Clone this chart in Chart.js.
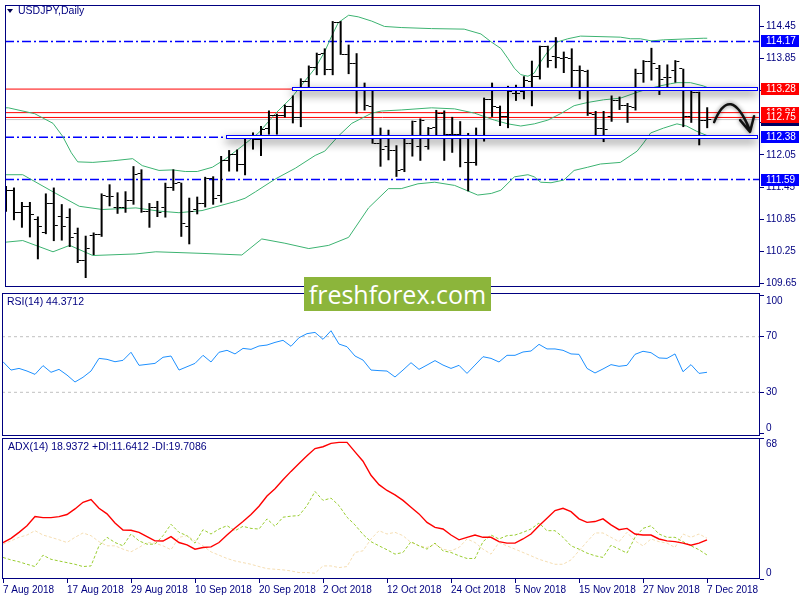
<!DOCTYPE html>
<html>
<head>
<meta charset="utf-8">
<title>USDJPY, Daily</title>
<script src="https://cdn.jsdelivr.net/npm/chart.js@4.4.1/dist/chart.umd.min.js"></script>
<style>
  html, body { margin: 0; padding: 0; background: #fff; }
  #wrap { position: relative; width: 800px; height: 600px; overflow: hidden; font-family: 'Liberation Sans', Arial, sans-serif; }
  canvas { position: absolute; left: 0; }
  .title { position: absolute; font-size: 10.5px; line-height: 13px; color: #000080; white-space: nowrap; }
  .menuMark { position: absolute; left: 7px; top: 9px; width: 0; height: 0;
    border-left: 3px solid transparent; border-right: 3px solid transparent; border-top: 4px solid #000050; }
  #brand { position: absolute; left: 304px; top: 277px; width: 187px; height: 34px; background: #8cb53b;
    color: #fff; font-family: 'Open Sans', sans-serif; font-size: 25px; line-height: 34px; text-align: center; }
</style>
</head>
<body>
<div id="wrap">
  <canvas id="priceChart" width="800" height="292" style="top:0"></canvas>
  <canvas id="rsiChart" width="800" height="145" style="top:292px"></canvas>
  <canvas id="adxChart" width="800" height="163" style="top:437px"></canvas>
  <div class="menuMark"></div>
  <div class="title" style="left:18px;top:4px">USDJPY,Daily</div>
  <div class="title" style="left:7px;top:295px">RSI(14) 44.3712</div>
  <div class="title" style="left:8px;top:440px">ADX(14) 18.9372 +DI:11.6412 -DI:19.7086</div>
  <div id="brand">freshforex.com</div>
</div>
<script>
// time axis: one label every 8 daily bars
const tickLabels = ['7 Aug 2018', '17 Aug 2018', '29 Aug 2018', '10 Sep 2018', '20 Sep 2018', '2 Oct 2018',
    '12 Oct 2018', '24 Oct 2018', '5 Nov 2018', '15 Nov 2018', '27 Nov 2018', '7 Dec 2018'];
const tickBars = [0, 8, 16, 24, 32, 40, 48, 56, 64, 72, 80, 88];

// daily bars, 7 Aug .. 7 Dec 2018
const opens = [111.40, 111.38, 110.97, 111.09, 110.85, 110.60, 111.15, 110.90, 110.88, 110.59,
    110.07, 110.55, 110.57, 111.27, 111.06, 111.07, 111.19, 111.70, 110.99, 111.07,
    111.07, 111.45, 111.53, 110.72, 111.03, 111.15, 111.60, 111.30, 111.94, 112.06,
    111.87, 112.37, 112.34, 112.55, 112.79, 112.79, 112.96, 112.75, 113.42, 113.68,
    113.95, 113.64, 114.52, 113.93, 113.75, 113.26, 112.96, 112.27, 112.21, 112.14,
    111.78, 112.26, 112.20, 112.21, 112.57, 112.83, 112.44, 112.43, 111.90, 111.90,
    112.37, 113.09, 112.93, 112.76, 113.20, 113.23, 113.42, 113.52, 114.07, 113.89,
    113.85, 113.85, 113.62, 113.61, 112.80, 112.55, 112.76, 113.06, 112.97, 112.93,
    113.58, 113.79, 113.67, 113.49, 113.62, 113.66, 112.77, 113.22, 112.69];
const highs = [111.47, 111.44, 111.17, 111.17, 110.90, 111.33, 111.44, 111.13, 111.05, 110.69,
    110.54, 110.60, 111.33, 111.50, 111.35, 111.37, 111.84, 111.78, 111.15, 111.19,
    111.53, 111.78, 111.53, 111.25, 111.27, 111.64, 111.65, 112.03, 112.14, 112.15,
    112.40, 112.47, 112.59, 112.88, 112.82, 112.99, 113.16, 113.48, 113.72, 113.96,
    114.04, 114.55, 114.55, 114.11, 113.95, 113.40, 113.28, 112.56, 112.52, 112.23,
    112.35, 112.69, 112.73, 112.57, 112.89, 112.88, 112.76, 112.68, 112.46, 112.56,
    113.12, 113.40, 112.97, 113.34, 113.36, 113.52, 113.81, 114.09, 114.09, 114.25,
    113.98, 114.04, 113.72, 113.64, 112.87, 112.87, 113.16, 113.14, 113.02, 113.66,
    113.82, 114.05, 113.73, 113.74, 113.82, 113.66, 113.25, 113.23, 112.94];
const lows = [110.99, 110.83, 110.69, 110.51, 110.10, 110.57, 110.44, 110.45, 110.33, 110.03,
    109.75, 110.18, 110.52, 111.09, 110.95, 110.97, 111.12, 110.97, 110.69, 110.89,
    110.88, 111.38, 110.52, 110.38, 110.94, 111.07, 111.12, 111.16, 111.74, 111.74,
    111.67, 112.15, 112.03, 112.43, 112.43, 112.75, 112.64, 112.57, 113.26, 113.54,
    113.54, 113.54, 113.92, 113.56, 112.82, 112.88, 112.26, 111.83, 111.95, 111.64,
    111.73, 112.02, 111.94, 112.15, 112.40, 111.94, 112.09, 111.82, 111.37, 111.85,
    112.30, 112.76, 112.59, 112.55, 113.06, 113.09, 112.96, 113.46, 113.68, 113.67,
    113.58, 113.31, 113.09, 112.78, 112.41, 112.29, 112.67, 112.89, 112.65, 112.88,
    113.40, 113.44, 113.17, 113.30, 113.40, 112.57, 112.65, 112.23, 112.55];
const closes = [111.38, 110.97, 111.09, 110.93, 110.71, 111.15, 110.74, 110.71, 110.51, 110.07,
    110.31, 110.57, 111.29, 111.27, 111.07, 111.19, 111.68, 110.99, 111.06, 110.97,
    111.45, 111.51, 110.77, 111.00, 111.15, 111.60, 111.24, 111.94, 112.06, 111.87,
    112.37, 112.34, 112.52, 112.79, 112.79, 112.96, 112.75, 113.43, 113.68, 113.93,
    113.64, 114.52, 113.93, 113.75, 113.26, 112.97, 112.26, 112.15, 112.14, 111.76,
    112.26, 112.67, 112.70, 112.55, 112.82, 112.44, 112.43, 112.38, 111.90, 112.37,
    113.09, 112.96, 112.76, 113.23, 113.20, 113.44, 113.52, 114.07, 113.81, 113.87,
    113.87, 113.62, 113.62, 112.82, 112.55, 112.53, 113.06, 112.97, 112.96, 113.58,
    113.79, 113.75, 113.46, 113.50, 113.79, 112.77, 113.22, 112.69, 112.71];

// Bollinger bands as [bar, price]
const bbUpper = [[0, 112.93], [0.3, 112.93], [3.6, 112.82], [5.9, 112.64], [7.1, 112.40], [8.2, 112.09],
    [9.0, 111.92], [10.9, 111.91], [13.4, 111.94], [15.9, 111.98], [17.1, 111.85], [19.2, 111.76],
    [20.9, 111.77], [22.5, 111.74], [24, 111.74], [25.9, 111.82], [27.5, 111.97], [29.6, 112.21],
    [31.7, 112.46], [33.8, 112.82], [35.9, 113.13], [37.5, 113.43], [38.8, 113.67], [40, 113.98],
    [40.9, 114.28], [41.7, 114.52], [43, 114.66], [44.2, 114.63], [45.9, 114.55], [47.5, 114.45],
    [49.6, 114.43], [53.4, 114.41], [57.5, 114.40], [59.6, 114.31], [60.9, 114.16], [62.1, 114.04],
    [63, 113.85], [63.8, 113.67], [64.6, 113.55], [65.5, 113.52], [66.3, 113.58], [67.1, 113.79],
    [68, 113.98], [69.2, 114.16], [70.5, 114.22], [72.1, 114.27], [77.1, 114.25], [78.4, 114.22],
    [79.6, 114.22], [81, 114.18], [82.5, 114.20], [87.5, 114.23], [88, 114.23]];
const bbMiddle = [[0, 111.68], [2.1, 111.68], [5.9, 111.36], [9.2, 111.09], [12.1, 111.03], [16.3, 111.06],
    [19.2, 111.00], [21.7, 110.97], [24.6, 111.01], [28.8, 111.18], [30, 111.24], [31.3, 111.36],
    [33.8, 111.60], [36.3, 111.80], [38.8, 112.04], [40, 112.12], [41.7, 112.40], [43.4, 112.64],
    [45.9, 112.83], [47.1, 112.87], [49.6, 112.89], [53.4, 112.93], [56.3, 112.91], [58.8, 112.83],
    [61.3, 112.70], [63, 112.63], [64.6, 112.59], [66.3, 112.63], [68, 112.70], [69.6, 112.82],
    [71.3, 112.97], [73, 113.03], [75, 113.08], [77.1, 113.11], [79.2, 113.22], [80.5, 113.28],
    [82.1, 113.34], [83.4, 113.38], [84.2, 113.40], [85.9, 113.40], [87.5, 113.34], [88, 113.31]];
const bbLower = [[0, 110.42], [2.1, 110.45], [5.9, 110.24], [8, 110.36], [10.9, 110.17], [16.3, 110.20],
    [18.8, 110.24], [24.6, 110.21], [29.6, 110.18], [32.1, 110.48], [35, 110.40], [38, 110.30],
    [40.5, 110.36], [43, 110.51], [45.5, 111.06], [48, 111.42], [49.6, 111.42], [51.7, 111.51],
    [53.8, 111.54], [56.3, 111.48], [59.2, 111.30], [60.9, 111.33], [62.1, 111.39], [63.8, 111.64],
    [65.5, 111.68], [66.3, 111.64], [67.1, 111.54], [68.4, 111.53], [70, 111.58], [71.3, 111.76],
    [73, 111.82], [74.6, 111.88], [77.1, 111.91], [79.2, 112.12], [80, 112.27], [80.9, 112.46],
    [82.5, 112.55], [84.2, 112.63], [85.4, 112.59], [86.7, 112.49], [88, 112.41]];

const rsi = [52.0, 46.0, 47.2, 45.3, 42.9, 49.2, 44.4, 46.5, 42.4, 37.4,
    40.8, 45.3, 54.4, 53.7, 52.0, 53.0, 58.8, 49.4, 50.1, 50.8,
    55.2, 56.1, 46.0, 48.4, 50.8, 56.6, 51.8, 58.8, 60.2, 57.6,
    61.6, 60.9, 63.3, 64.0, 65.9, 67.4, 63.1, 69.3, 72.2, 73.1,
    68.1, 74.3, 64.7, 62.8, 56.1, 53.2, 46.0, 45.6, 45.3, 41.0,
    46.0, 51.3, 46.5, 49.6, 52.8, 49.6, 47.2, 49.4, 43.6, 49.6,
    55.6, 54.4, 51.8, 56.6, 56.6, 59.0, 59.7, 64.5, 61.2, 61.2,
    60.2, 57.6, 57.3, 47.2, 43.9, 46.8, 49.9, 48.7, 49.4, 57.3,
    59.5, 58.5, 54.7, 54.4, 57.6, 44.8, 49.9, 43.6, 44.4];
const adx = [17.6, 19.6, 22.5, 25.7, 30.1, 29.6, 29.6, 30.1, 31.1, 33.8,
    37.0, 38.3, 34.1, 31.4, 27.0, 23.6, 23.5, 22.5, 20.4, 18.4,
    18.3, 20.4, 17.6, 16.5, 14.4, 15.2, 15.5, 17.6, 21.2, 24.6,
    27.7, 31.1, 35.1, 40.0, 43.5, 47.9, 51.9, 55.7, 59.4, 62.9,
    63.8, 65.4, 65.9, 65.9, 61.3, 56.8, 50.0, 45.5, 42.7, 40.6,
    37.9, 34.6, 31.4, 27.3, 24.9, 24.1, 21.2, 18.9, 20.1, 21.2,
    20.1, 20.1, 18.0, 17.3, 17.3, 19.3, 21.7, 25.7, 29.3, 33.0,
    34.1, 32.5, 29.0, 27.3, 27.7, 29.0, 26.1, 23.8, 24.4, 21.7,
    21.2, 21.2, 19.3, 18.4, 18.0, 17.3, 16.3, 17.3, 18.9];
const plusDI = [10.4, 9.2, 8.3, 7.1, 6.0, 11.5, 9.5, 8.7, 7.9, 7.1,
    6.0, 6.3, 16.0, 20.1, 17.6, 16.0, 21.7, 18.4, 16.8, 16.8,
    20.9, 26.4, 22.5, 20.9, 17.3, 23.8, 21.7, 24.1, 25.7, 23.3,
    25.4, 24.4, 24.1, 29.0, 25.4, 29.8, 30.3, 30.6, 35.4, 42.2,
    37.9, 39.0, 35.4, 29.8, 26.1, 21.5, 18.0, 16.0, 14.1, 12.0,
    12.8, 18.0, 16.0, 14.4, 17.3, 13.6, 12.8, 11.2, 9.9, 9.9,
    18.0, 21.2, 19.3, 20.9, 21.2, 22.5, 24.1, 27.0, 23.3, 23.3,
    20.1, 16.0, 14.4, 12.5, 11.2, 10.4, 16.3, 14.4, 12.5, 20.1,
    24.4, 25.7, 21.7, 20.1, 20.1, 18.0, 16.0, 14.1, 11.6];
const minusDI = [16.8, 18.4, 20.1, 21.2, 23.3, 21.2, 20.1, 18.9, 17.6, 20.1,
    22.2, 20.9, 18.0, 16.0, 16.0, 14.4, 13.1, 15.2, 17.6, 17.3,
    16.0, 14.1, 20.1, 20.9, 18.4, 16.0, 13.1, 11.5, 9.9, 8.7,
    7.9, 7.1, 6.0, 5.0, 4.7, 4.4, 3.9, 3.1, 3.1, 2.8,
    6.3, 6.3, 5.5, 6.0, 12.8, 13.6, 19.3, 23.3, 21.7, 22.5,
    20.9, 17.6, 16.0, 15.2, 16.8, 14.4, 13.6, 15.2, 19.3, 17.6,
    14.4, 12.0, 17.6, 16.0, 14.4, 12.8, 11.2, 9.5, 8.3, 7.1,
    7.1, 9.2, 13.6, 18.0, 22.2, 22.2, 20.1, 18.0, 22.5, 18.4,
    16.0, 19.3, 18.0, 17.3, 15.2, 21.7, 20.1, 21.7, 19.7];

// price axis and drawn levels
const priceTicks = [109.65, 110.25, 110.85, 111.45, 112.05, 112.65, 113.25, 113.85, 114.45];
const dashLevels = [114.17, 111.59];
const redLevels = [112.84, 112.75];
const bidPrice = 112.71;
const zoneLevels = [113.28, 112.38];
const zoneStarts = [35.9, 27.6];
const rsiTicks = [0, 30, 70, 100];
const rsiLevels = [70, 30];
const adxTicks = [0, 68];

const NAVY = '#000080';
const X_MIN = -0.125, X_MAX = 94.625, ZONE_END = 94.25;

Chart.defaults.font.family = "'Liberation Sans', Arial, sans-serif";
Chart.defaults.font.size = 10;
Chart.defaults.color = NAVY;

const barIdx = opens.map((_, i) => i);
const series = vals => vals.map((v, i) => ({ x: i, y: v }));
const pairs = pts => pts.map(p => ({ x: p[0], y: p[1] }));
const hline = (v, from = X_MIN, to = X_MAX) => [{ x: from, y: v }, { x: to, y: v }];

// little horizontal tick for open (left) / close (right)
function tickMark(side) {
    const c = document.createElement('canvas');
    c.width = 10; c.height = 1;
    const g = c.getContext('2d');
    g.fillStyle = '#000';
    g.fillRect(side === 'open' ? 1 : 6, 0, 3, 1);
    return c;
}

function timeAxis(visible) {
    return {
        type: 'linear', min: X_MIN, max: X_MAX, offset: false, display: visible,
        grid: { drawOnChartArea: false, tickLength: 4, color: NAVY },
        border: { display: false },
        ticks: {
            autoSkip: false, maxRotation: 0, align: 'start', padding: 1, color: NAVY,
            callback: v => tickLabels[tickBars.indexOf(v)] || ''
        },
        afterBuildTicks: s => { s.ticks = tickBars.map(v => ({ value: v })); },
        afterFit: s => {
            if (visible) s.height = 21;
            s.paddingLeft = 0; s.paddingRight = 0;
        }
    };
}

function valueAxis(min, max, values, format) {
    return {
        type: 'linear', position: 'right', min: min, max: max,
        grid: { drawOnChartArea: false, tickLength: 4, color: NAVY },
        border: { display: false },
        ticks: { padding: 2, color: NAVY, autoSkip: false, callback: format },
        afterBuildTicks: s => { s.ticks = values.map(v => ({ value: v })); },
        afterFit: s => { s.width = 40; s.paddingTop = 0; s.paddingBottom = 0; }
    };
}

const frame = {
    id: 'frame',
    afterDraw(chart) {
        const { ctx, chartArea: a } = chart;
        ctx.save();
        ctx.strokeStyle = NAVY;
        ctx.lineWidth = 1;
        ctx.strokeRect(a.left + 0.5, a.top + 0.5, a.right - a.left - 1, a.bottom - a.top - 1);
        ctx.restore();
    }
};

// support/resistance boxes, hand drawn arrow and the price tags on the axis
const overlay = {
    id: 'overlay',
    afterDatasetsDraw(chart) {
        const { ctx } = chart;
        const x = chart.scales.x, y = chart.scales.y;
        zoneLevels.forEach((lv, k) => {
            const x0 = Math.round(x.getPixelForValue(zoneStarts[k]));
            const x1 = Math.round(x.getPixelForValue(ZONE_END));
            const y0 = Math.round(y.getPixelForValue(lv)) - 1;
            ctx.save();
            ctx.shadowColor = 'rgba(0,0,0,0.8)';
            ctx.shadowBlur = 10;
            ctx.shadowOffsetY = 3;
            ctx.fillStyle = '#fff';
            ctx.fillRect(x0, y0, x1 - x0, 3);
            ctx.restore();
            ctx.strokeStyle = '#0000ff';
            ctx.lineWidth = 1;
            ctx.strokeRect(x0 + 0.5, y0 - 0.5, x1 - x0, 3);
        });

        const P = (b, p) => [x.getPixelForValue(b), y.getPixelForValue(p)];
        const s = P(88.875, 112.663), c = P(90.875, 113.393), e = P(93.3, 112.53);
        const tip = P(93.375, 112.48), w1 = P(92.125, 112.70), w2 = P(93.875, 112.773);
        ctx.save();
        ctx.strokeStyle = '#111';
        ctx.lineWidth = 2.5;
        ctx.lineCap = 'round';
        ctx.lineJoin = 'round';
        ctx.shadowColor = 'rgba(0,0,0,0.55)';
        ctx.shadowBlur = 4;
        ctx.beginPath();
        ctx.moveTo(s[0], s[1]);
        ctx.quadraticCurveTo(c[0], c[1], e[0], e[1]);
        ctx.moveTo(w1[0], w1[1]);
        ctx.lineTo(tip[0], tip[1]);
        ctx.lineTo(w2[0], w2[1]);
        ctx.stroke();
        ctx.restore();
    },
    afterDraw(chart) {
        const { ctx } = chart;
        const y = chart.scales.y;
        const tags = [
            [dashLevels[0], '#0000ff'], [zoneLevels[0], '#ff0000'], [redLevels[0], '#ff0000'],
            [bidPrice, '#000060'], [redLevels[1], '#ff0000'], [zoneLevels[1], '#0000ff'], [dashLevels[1], '#0000ff']
        ];
        ctx.save();
        ctx.font = "10px 'Liberation Sans', Arial, sans-serif";
        ctx.textBaseline = 'middle';
        tags.forEach(([v, col]) => {
            const py = Math.round(y.getPixelForValue(v));
            ctx.fillStyle = col;
            ctx.fillRect(761, py - 6, 38, 12);
            ctx.fillStyle = '#fff';
            ctx.fillText(v.toFixed(2), 766, py + 0.5);
        });
        ctx.restore();
    }
};

const baseOptions = {
    responsive: false,
    animation: false,
    events: [],
    elements: { point: { radius: 0 }, line: { tension: 0 } },
    plugins: { legend: { display: false }, tooltip: { enabled: false } }
};

new Chart(document.getElementById('priceChart'), {
    type: 'line',
    data: {
        datasets: [
            { type: 'bar', data: barIdx.map(i => ({ x: i, y: [lows[i], highs[i]] })),
              backgroundColor: '#000', barThickness: 2, borderWidth: 0, inflateAmount: 0 },
            { data: barIdx.map(i => ({ x: i, y: opens[i] })), showLine: false,
              pointStyle: tickMark('open'), pointRadius: 3 },
            { data: barIdx.map(i => ({ x: i, y: closes[i] })), showLine: false,
              pointStyle: tickMark('close'), pointRadius: 3 },
            { data: pairs(bbUpper), borderColor: '#3cb371', borderWidth: 1 },
            { data: pairs(bbMiddle), borderColor: '#3cb371', borderWidth: 1 },
            { data: pairs(bbLower), borderColor: '#3cb371', borderWidth: 1 },
            { data: hline(dashLevels[0]), borderColor: '#0000ff', borderWidth: 1.6, borderDash: [9, 3, 2, 3] },
            { data: hline(dashLevels[1]), borderColor: '#0000ff', borderWidth: 1.6, borderDash: [9, 3, 2, 3] },
            { data: hline(zoneLevels[1], X_MIN, zoneStarts[1]), borderColor: '#0000ff', borderWidth: 1.6, borderDash: [9, 3, 2, 3] },
            { data: hline(zoneLevels[0], X_MIN, zoneStarts[0]), borderColor: '#ff0000', borderWidth: 1 },
            { data: hline(redLevels[0]), borderColor: '#ff0000', borderWidth: 1 },
            { data: hline(redLevels[1]), borderColor: '#ff0000', borderWidth: 1 },
            { data: hline(bidPrice), borderColor: '#c8c8c8', borderWidth: 1 }
        ]
    },
    options: Object.assign({}, baseOptions, {
        layout: { padding: { left: 2, top: 2, right: 0, bottom: 1 } },
        scales: {
            x: timeAxis(false),
            y: valueAxis(109.582, 114.851, priceTicks, v => v.toFixed(2))
        }
    }),
    plugins: [frame, overlay]
});

new Chart(document.getElementById('rsiChart'), {
    type: 'line',
    data: {
        datasets: [
            { data: series(rsi), borderColor: '#1e90ff', borderWidth: 1 },
            { data: hline(rsiLevels[0]), borderColor: '#c0c0c0', borderWidth: 1, borderDash: [3, 3] },
            { data: hline(rsiLevels[1]), borderColor: '#c0c0c0', borderWidth: 1, borderDash: [3, 3] }
        ]
    },
    options: Object.assign({}, baseOptions, {
        layout: { padding: { left: 2, top: 1, right: 0, bottom: 1 } },
        scales: {
            x: timeAxis(false),
            y: valueAxis(-1.44, 101.44, rsiTicks,
                v => v === 100 ? ['', '100'] : v === 0 ? ['0', ''] : String(v))
        }
    }),
    plugins: [frame]
});

new Chart(document.getElementById('adxChart'), {
    type: 'line',
    data: {
        datasets: [
            { data: series(adx), borderColor: '#ff0000', borderWidth: 1.4 },
            { data: series(plusDI), borderColor: '#9acd32', borderWidth: 1, borderDash: [3, 2] },
            { data: series(minusDI), borderColor: '#f5deb3', borderWidth: 1, borderDash: [3, 2] }
        ]
    },
    options: Object.assign({}, baseOptions, {
        layout: { padding: { left: 2, top: 1, right: 0, bottom: 0 } },
        scales: {
            x: timeAxis(true),
            y: valueAxis(0, 68, adxTicks, v => v === 68 ? ['', '68'] : ['0', ''])
        }
    }),
    plugins: [frame]
});
</script>
</body>
</html>
